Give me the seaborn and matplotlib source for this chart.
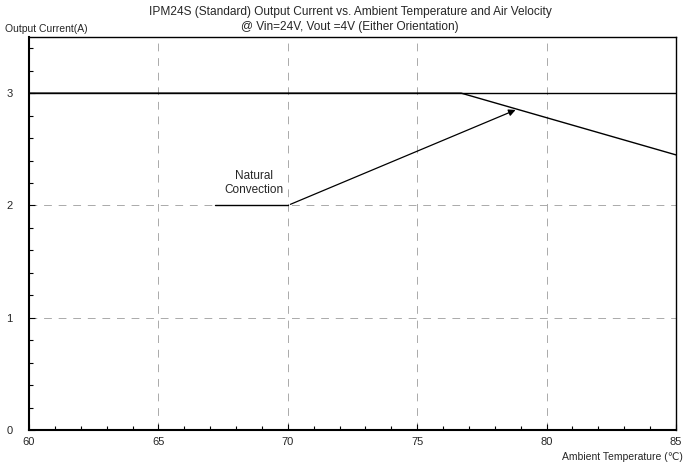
import matplotlib
matplotlib.use("Agg")
import matplotlib.pyplot as plt
import pandas as pd
import seaborn as sns
from matplotlib.ticker import MultipleLocator

# derating curves
temps_nc = [60, 76.7, 85]
current_nc = [3.0, 3.0, 2.45]
temps_max = [60, 85]
current_max = [3.0, 3.0]

label_line_x = [67.2, 70]
label_line_y = [2.0, 2.0]
arrow_tip = (78.9, 2.86)

df_nc = pd.DataFrame({'Temp': temps_nc, 'Current': current_nc})
df_max = pd.DataFrame({'Temp': temps_max, 'Current': current_max})

sns.set_style("white")
plt.rcParams['font.family'] = ['Liberation Sans', 'DejaVu Sans']

fig = plt.figure(figsize=(6.97, 4.67), dpi=100)
ax = fig.add_axes([29 / 697, 1 - 430 / 467, 647 / 697, 393 / 467])

sns.lineplot(data=df_max, x='Temp', y='Current', ax=ax, color='black', lw=1.0)
sns.lineplot(data=df_nc, x='Temp', y='Current', ax=ax, color='black', lw=1.0)

ax.plot(label_line_x, label_line_y, color='black', lw=1.0)
ax.annotate('', xy=arrow_tip, xytext=(label_line_x[1], label_line_y[1]),
            arrowprops=dict(arrowstyle='-|>', color='black', lw=0.9, mutation_scale=10))
ax.text(68.7, 2.2, 'Natural\nConvection', ha='center', va='center', fontsize=8.5)

ax.set_xlim(60, 85)
ax.set_ylim(0, 3.5)
ax.xaxis.set_major_locator(MultipleLocator(5))
ax.xaxis.set_minor_locator(MultipleLocator(1))
ax.yaxis.set_major_locator(MultipleLocator(1))
ax.yaxis.set_minor_locator(MultipleLocator(0.2))
ax.tick_params(axis='both', which='both', bottom=True, left=True, top=False, right=False,
               direction='in', color='black')
ax.tick_params(axis='both', which='major', length=4, width=0.8, labelsize=8)
ax.tick_params(axis='both', which='minor', length=3, width=0.8)
ax.tick_params(axis='x', which='major', pad=5)
ax.tick_params(axis='y', which='major', pad=12)

for v in [65, 70, 75, 80]:
    ax.axvline(v, color='#aaaaaa', lw=0.7, ls=(0, (8, 7)), zorder=0)
for v in [1, 2]:
    ax.axhline(v, color='#aaaaaa', lw=0.7, ls=(0, (8, 7)), zorder=0)

for side in ['left', 'bottom']:
    ax.spines[side].set_linewidth(1.5)
for side in ['top', 'right']:
    ax.spines[side].set_linewidth(1.0)
for s in ax.spines.values():
    s.set_color('black')

ax.set_xlabel('')
ax.set_ylabel('')

fig.text(350 / 697, 1 - 12 / 467, 'IPM24S (Standard) Output Current vs. Ambient Temperature and Air Velocity',
         ha='center', va='center', fontsize=8.6)
fig.text(350 / 697, 1 - 27 / 467, '@ Vin=24V, Vout =4V (Either Orientation)',
         ha='center', va='center', fontsize=8.6)
fig.text(5 / 697, 1 - 29 / 467, 'Output Current(A)', ha='left', va='center', fontsize=7.5)
fig.text(683 / 697, 1 - 457 / 467, 'Ambient Temperature (℃)', ha='right', va='center', fontsize=7.5)

plt.savefig('out.png', dpi=100)
